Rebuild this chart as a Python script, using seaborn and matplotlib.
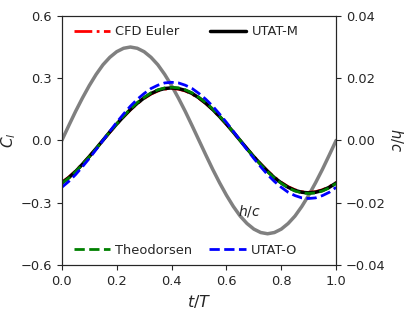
import matplotlib
matplotlib.use("Agg")
import matplotlib.pyplot as plt
import seaborn as sns
import pandas as pd

# t/T sampled every 0.025 of the period
t = [0.000, 0.025, 0.050, 0.075, 0.100, 0.125, 0.150, 0.175, 0.200, 0.225,
     0.250, 0.275, 0.300, 0.325, 0.350, 0.375, 0.400, 0.425, 0.450, 0.475,
     0.500, 0.525, 0.550, 0.575, 0.600, 0.625, 0.650, 0.675, 0.700, 0.725,
     0.750, 0.775, 0.800, 0.825, 0.850, 0.875, 0.900, 0.925, 0.950, 0.975,
     1.000]

# plunge motion h/c (right axis)
h_c = [0.0000, 0.0047, 0.0093, 0.0136, 0.0176, 0.0212, 0.0243, 0.0267, 0.0285, 0.0296,
       0.0300, 0.0296, 0.0285, 0.0267, 0.0243, 0.0212, 0.0176, 0.0136, 0.0093, 0.0047,
       0.0000, -0.0047, -0.0093, -0.0136, -0.0176, -0.0212, -0.0243, -0.0267, -0.0285, -0.0296,
       -0.0300, -0.0296, -0.0285, -0.0267, -0.0243, -0.0212, -0.0176, -0.0136, -0.0093, -0.0047,
       0.0000]

cl_cfd = [-0.202, -0.177, -0.147, -0.113, -0.077, -0.039, 0.000, 0.039, 0.077, 0.113,
          0.147, 0.177, 0.202, 0.223, 0.238, 0.247, 0.250, 0.247, 0.238, 0.223,
          0.202, 0.177, 0.147, 0.113, 0.077, 0.039, 0.000, -0.039, -0.077, -0.113,
          -0.147, -0.177, -0.202, -0.223, -0.238, -0.247, -0.250, -0.247, -0.238, -0.223,
          -0.202]

cl_utat_m = [-0.205, -0.180, -0.150, -0.115, -0.078, -0.039, 0.001, 0.041, 0.079, 0.115,
             0.149, 0.179, 0.205, 0.226, 0.241, 0.250, 0.253, 0.250, 0.241, 0.226,
             0.205, 0.179, 0.149, 0.115, 0.079, 0.040, 0.000, -0.040, -0.079, -0.115,
             -0.149, -0.180, -0.205, -0.226, -0.241, -0.250, -0.253, -0.250, -0.241, -0.226,
             -0.205]

cl_theo = [-0.207, -0.182, -0.151, -0.116, -0.079, -0.040, 0.001, 0.041, 0.080, 0.117,
           0.151, 0.182, 0.207, 0.229, 0.244, 0.253, 0.256, 0.253, 0.244, 0.229,
           0.207, 0.182, 0.151, 0.117, 0.080, 0.040, 0.000, -0.040, -0.080, -0.117,
           -0.151, -0.182, -0.207, -0.229, -0.244, -0.253, -0.256, -0.253, -0.244, -0.229,
           -0.207]

cl_utat_o = [-0.226, -0.198, -0.165, -0.127, -0.087, -0.044, 0.000, 0.044, 0.087, 0.127,
             0.165, 0.198, 0.226, 0.250, 0.266, 0.277, 0.280, 0.277, 0.266, 0.250,
             0.226, 0.198, 0.165, 0.127, 0.087, 0.044, 0.000, -0.044, -0.087, -0.127,
             -0.165, -0.198, -0.226, -0.250, -0.266, -0.277, -0.280, -0.277, -0.266, -0.250,
             -0.226]

df = pd.DataFrame({"t": t, "h_c": h_c, "CFD Euler": cl_cfd, "UTAT-M": cl_utat_m,
                   "Theodorsen": cl_theo, "UTAT-O": cl_utat_o})

sns.set_style("ticks")
plt.rcParams["font.family"] = ["DejaVu Sans"]
plt.rcParams["font.size"] = 9.4

fig, ax = plt.subplots(figsize=(4.15, 3.12), dpi=100)
fig.subplots_adjust(left=0.149, right=0.81, top=0.949, bottom=0.151)
ax2 = ax.twinx()

# h/c behind the lift curves
sns.lineplot(data=df, x="t", y="h_c", ax=ax2, color="gray", linewidth=2.5)
ax2.set_ylim(-0.04, 0.04)
ax2.set_yticks([-0.04, -0.02, 0.0, 0.02, 0.04])
ax2.set_ylabel("$h/c$", rotation=270, labelpad=14, fontsize=10.5)

l_cfd, = ax.plot(df["t"], df["CFD Euler"], color="red", linestyle="-.", linewidth=2)
l_m, = ax.plot(df["t"], df["UTAT-M"], color="black", linestyle="-", linewidth=2.5)
l_th, = ax.plot(df["t"], df["Theodorsen"], color="green", linestyle="--", linewidth=2)
l_o, = ax.plot(df["t"], df["UTAT-O"], color="blue", linestyle="--", linewidth=2)

ax.set_zorder(ax2.get_zorder() + 1)
ax.patch.set_visible(False)

ax.set_xlim(0, 1)
ax.set_ylim(-0.6, 0.6)
ax.set_xticks([0.0, 0.2, 0.4, 0.6, 0.8, 1.0])
ax.set_yticks([-0.6, -0.3, 0.0, 0.3, 0.6])
ax.set_xlabel("$t/T$", fontsize=11.5)
ax.set_ylabel("$C_l$", fontsize=11, labelpad=2)

ax.text(0.685, -0.34, "$h/c$", ha="center", va="center", fontsize=10)

leg1 = ax.legend([l_cfd, l_m], ["CFD Euler", "UTAT-M"], loc="upper left", ncol=2,
                 frameon=False, handlelength=2.8, columnspacing=2.3, handletextpad=0.4,
                 bbox_to_anchor=(0.0, 1.01))
ax.add_artist(leg1)
ax.legend([l_th, l_o], ["Theodorsen", "UTAT-O"], loc="lower left", ncol=2,
          frameon=False, handlelength=2.8, columnspacing=1.3, handletextpad=0.4,
          bbox_to_anchor=(0.0, -0.015))

fig.savefig("out.png", dpi=100)
